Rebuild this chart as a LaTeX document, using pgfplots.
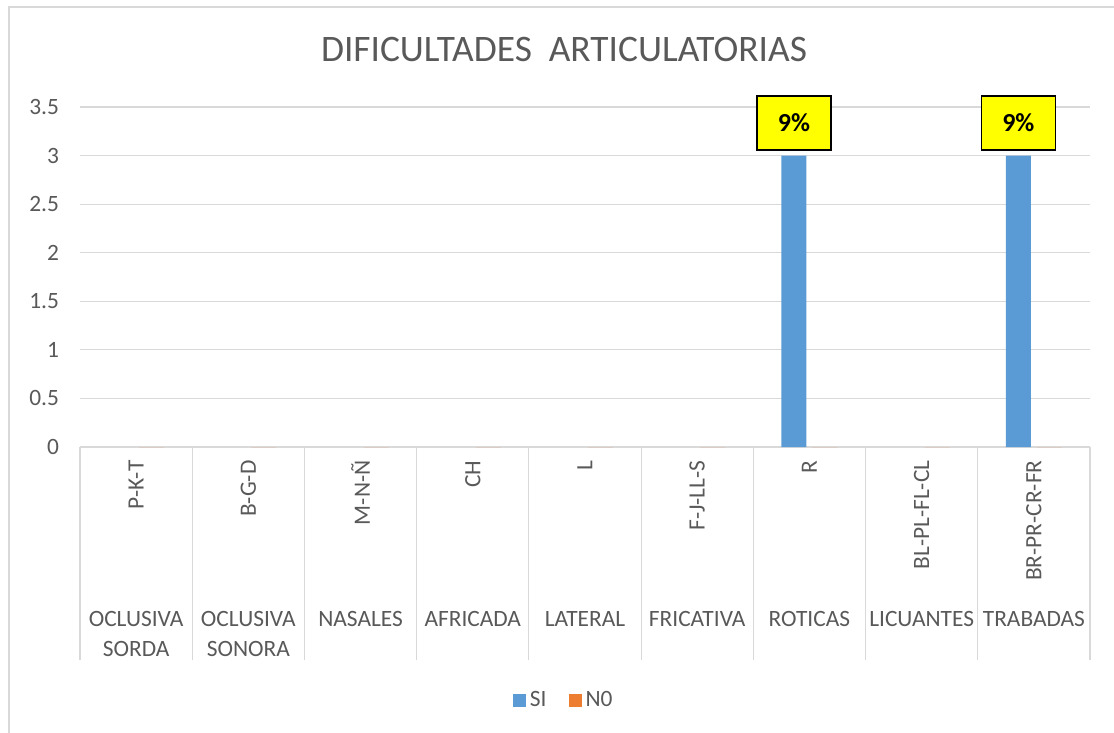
\documentclass[border=0pt]{standalone}
\usepackage{fontspec}
\setmainfont{Carlito}
\usepackage{pgfplots}
\pgfplotsset{compat=1.18}
\definecolor{siblue}{HTML}{5B9BD5}
\definecolor{noorange}{HTML}{ED7D31}
\definecolor{gridgray}{HTML}{D9D9D9}
\definecolor{txt}{HTML}{595959}
\definecolor{lblyellow}{HTML}{FFFF00}
\begin{document}
\begin{tikzpicture}
\useasboundingbox (0,0) rectangle (557pt,-366.5pt);
\draw[gridgray, line width=0.6pt] (4.5pt,-3.5pt) rectangle (560pt,-370pt);
\node[txt, font=\fontsize{18.7}{22}\selectfont] at (282pt,-25pt) {DIFICULTADES\ \ ARTICULATORIAS};
\begin{axis}[
  at={(40pt,-223.5pt)}, anchor=south west,
  scale only axis, width=505pt, height=170pt,
  xmin=-0.5, xmax=8.5, ymin=0, ymax=3.5,
  clip=false,
  ytick={0,0.5,1,1.5,2,2.5,3,3.5},
  xtick={-0.5,0.5,1.5,2.5,3.5,4.5,5.5,6.5,7.5,8.5},
  xticklabels={},
  xtick pos=bottom, xtick align=outside,
  major tick length=106.5pt,
  x tick style={draw=gridgray, line width=0.6pt},
  y tick style={draw=none},
  ymajorgrids, grid style={gridgray, line width=0.6pt},
  axis line style={draw=none},
  /pgf/number format/assume math mode=true,
  ticklabel style={font=\fontsize{11.7}{14}\selectfont, text=txt},
  yticklabel style={xshift=-7pt},
  ybar, bar width=12.5pt,
  legend style={at={(0.48,-0.745)}, anchor=center, draw=none, fill=none,
    font=\fontsize{11.7}{14}\selectfont, text=txt, legend columns=2,
    /tikz/every even column/.append style={column sep=9pt}},
  legend image code/.code={\fill[#1] (0pt,-3.25pt) rectangle (6.5pt,3.25pt);},
]
\addplot[fill=siblue, draw=none, bar shift=-7.75pt,
  y filter/.expression={y==0 ? nan : y},
  point meta=explicit symbolic,
  nodes near coords,
  every node near coord/.style={anchor=south, xshift=-7.75pt, yshift=2.5pt, fill=lblyellow, draw=black,
    line width=0.8pt, minimum width=37pt, minimum height=27pt,
    font=\fontsize{13}{15}\bfseries, text=black, inner sep=0pt}]
  coordinates {(0,0) [] (1,0) [] (2,0) [] (3,0) [] (4,0) [] (5,0) [] (6,3) [9\%] (7,0) [] (8,3) [9\%]};
\addlegendentry{SI}
\addplot[fill=noorange, draw=none, bar shift=7.75pt]
  coordinates {(0,0) (1,0) (2,0) (3,0) (4,0) (5,0) (6,0) (7,0) (8,0)};
\addlegendentry{N0}
\tikzset{sub/.style={rotate=90, anchor=east, text=txt, font=\fontsize{11.7}{14}\selectfont, inner sep=0pt},
         grp/.style={anchor=north, align=center, text=txt, font=\fontsize{11.7}{15}\selectfont, inner sep=0pt}}
\node[sub] at (axis cs:0,-0.135) {P-K-T};
\node[sub] at (axis cs:1,-0.135) {B-G-D};
\node[sub] at (axis cs:2,-0.135) {M-N-Ñ};
\node[sub] at (axis cs:3,-0.135) {CH};
\node[sub] at (axis cs:4,-0.135) {L};
\node[sub] at (axis cs:5,-0.135) {F-J-LL-S};
\node[sub] at (axis cs:6,-0.135) {R};
\node[sub] at (axis cs:7,-0.135) {BL-PL-FL-CL};
\node[sub] at (axis cs:8,-0.135) {BR-PR-CR-FR};
\node[grp] at (axis cs:0,-1.69) {OCLUSIVA\\SORDA};
\node[grp] at (axis cs:1,-1.69) {OCLUSIVA\\SONORA};
\node[grp] at (axis cs:2,-1.69) {NASALES};
\node[grp] at (axis cs:3,-1.69) {AFRICADA};
\node[grp] at (axis cs:4,-1.69) {LATERAL};
\node[grp] at (axis cs:5,-1.69) {FRICATIVA};
\node[grp] at (axis cs:6,-1.69) {ROTICAS};
\node[grp] at (axis cs:7,-1.69) {LICUANTES};
\node[grp] at (axis cs:8,-1.69) {TRABADAS};
\end{axis}
\end{tikzpicture}
\end{document}
